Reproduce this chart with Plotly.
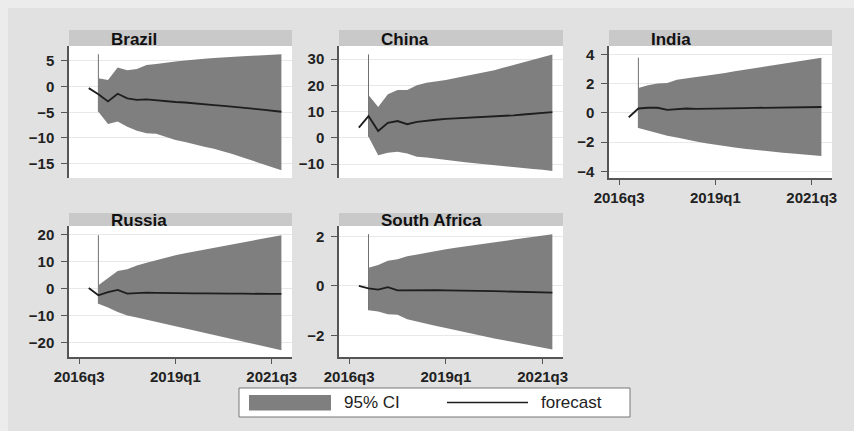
import plotly.graph_objects as go

# Quarter index: 0 = 2016q3, 10 = 2019q1, 20 = 2021q3
quarters_line = list(range(1, 22))   # 2016q4 .. 2021q4 (forecast path incl. last actual)
quarters_ci = list(range(2, 22))     # 2017q1 .. 2021q4 (forecast horizon)
forecast_start = 2
x_tickvals = [0, 10, 20]
x_ticktext = ["2016q3", "2019q1", "2021q3"]

countries = ["Brazil", "China", "India", "Russia", "South Africa"]

brazil_fc = [-0.3, -1.5, -2.9, -1.4, -2.3, -2.6, -2.5, -2.7, -2.9, -3.0, -3.1,
             -3.3, -3.4, -3.6, -3.75, -3.9, -4.1, -4.3, -4.5, -4.7, -4.9]
brazil_hi = [1.6, 1.3, 3.7, 3.2, 3.4, 4.2, 4.4, 4.7, 4.9, 5.1, 5.2, 5.4, 5.55,
             5.7, 5.8, 5.9, 6.0, 6.1, 6.2, 6.3]
brazil_lo = [-4.9, -7.3, -6.8, -7.8, -8.6, -9.1, -9.2, -9.8, -10.4, -10.8, -11.3,
             -11.7, -12.1, -12.6, -13.2, -13.8, -14.4, -15.0, -15.6, -16.3]

china_fc = [3.9, 8.3, 2.6, 5.7, 6.4, 5.2, 6.1, 6.6, 6.9, 7.2, 7.4, 7.5, 7.7,
            7.8, 8.0, 8.3, 8.6, 8.9, 9.2, 9.5, 9.8]
china_hi = [16.3, 11.8, 16.6, 18.2, 18.2, 20.0, 21.0, 21.5, 22.0, 22.8, 23.5,
            24.3, 25.0, 25.8, 26.8, 27.8, 28.8, 29.8, 30.8, 31.8]
china_lo = [0.4, -6.6, -5.7, -5.3, -6.0, -7.2, -7.5, -8.0, -8.5, -8.9, -9.3,
            -9.7, -10.1, -10.4, -10.8, -11.2, -11.5, -11.9, -12.2, -12.6]

india_fc = [-0.3, 0.3, 0.35, 0.35, 0.2, 0.25, 0.3, 0.28, 0.3, 0.3, 0.31, 0.32,
            0.33, 0.34, 0.35, 0.36, 0.37, 0.38, 0.39, 0.4, 0.4]
india_hi = [1.7, 1.88, 2.0, 2.05, 2.27, 2.38, 2.46, 2.54, 2.62, 2.73, 2.84,
            2.94, 3.05, 3.15, 3.27, 3.38, 3.48, 3.58, 3.68, 3.77]
india_lo = [-1.03, -1.22, -1.4, -1.57, -1.68, -1.84, -1.96, -2.08, -2.19, -2.28,
            -2.37, -2.45, -2.53, -2.6, -2.66, -2.72, -2.78, -2.84, -2.89, -2.94]

russia_fc = [0.2, -2.5, -1.3, -0.5, -1.9, -1.6, -1.5, -1.6, -1.7, -1.7, -1.8,
             -1.8, -1.8, -1.9, -1.9, -1.9, -1.9, -2.0, -2.0, -2.0, -2.0]
russia_hi = [1.2, 3.9, 6.5, 7.1, 8.5, 9.5, 10.5, 11.4, 12.3, 13.0, 13.7, 14.4,
             15.1, 15.8, 16.4, 17.0, 17.7, 18.4, 19.0, 19.7]
russia_lo = [-5.6, -7.0, -8.7, -10.0, -10.7, -11.5, -12.3, -13.1, -13.8, -14.6,
             -15.4, -16.2, -17.0, -17.9, -18.7, -19.5, -20.3, -21.1, -21.9, -22.8]

safrica_fc = [0.0, -0.1, -0.15, -0.05, -0.18, -0.17, -0.16, -0.16, -0.17, -0.18,
              -0.18, -0.19, -0.2, -0.2, -0.21, -0.22, -0.23, -0.24, -0.25, -0.26, -0.27]
safrica_hi = [0.74, 0.85, 1.02, 1.08, 1.2, 1.28, 1.35, 1.42, 1.49, 1.55, 1.6,
              1.66, 1.71, 1.76, 1.82, 1.88, 1.94, 1.99, 2.04, 2.1]
safrica_lo = [-0.98, -1.04, -1.15, -1.17, -1.35, -1.45, -1.53, -1.62, -1.7, -1.79,
              -1.88, -1.96, -2.05, -2.13, -2.2, -2.28, -2.36, -2.43, -2.5, -2.58]

forecasts = [brazil_fc, china_fc, india_fc, russia_fc, safrica_fc]
upper_ci = [brazil_hi, china_hi, india_hi, russia_hi, safrica_hi]
lower_ci = [brazil_lo, china_lo, india_lo, russia_lo, safrica_lo]

y_ticks = [[-15, -10, -5, 0, 5], [-10, 0, 10, 20, 30], [-4, -2, 0, 2, 4],
           [-20, -10, 0, 10, 20], [-2, 0, 2]]
y_ranges = [[-17.8, 7.9], [-15.3, 35], [-4.45, 4.57], [-25.3, 23.1], [-2.88, 2.43]]

W, H = 854, 431
BG = "#e1e1e1"
EDGE = "#ececec"
CI_COLOR = "#7f7f7f"
STRIP = "#c9c9c9"
AXIS = "#555555"
FONT = "Liberation Sans"


def px(x):
    return x / W


def py(y):
    return 1 - y / H


# panel placement (pixel boxes): columns and rows of the grid
cols = [(69, 292), (339, 563), (609, 832)]
rows = [(46, 178), (226, 357)]
strips = [(30, 46), (213, 226)]
cells = [(0, 0), (0, 1), (0, 2), (1, 0), (1, 1)]
show_x = [False, False, True, True, True]

fig = go.Figure()
layout = {}
shapes = []
annotations = []

for i, name in enumerate(countries):
    r, c = cells[i]
    xa = "x" if i == 0 else f"x{i + 1}"
    ya = "y" if i == 0 else f"y{i + 1}"
    top = max(upper_ci[i])

    # forecast-start marker, partly hidden by the CI band
    fig.add_trace(go.Scatter(x=[forecast_start, forecast_start], y=[lower_ci[i][0], top],
                             mode="lines", line=dict(color="#707070", width=1),
                             xaxis=xa, yaxis=ya, showlegend=False, hoverinfo="skip"))
    fig.add_trace(go.Scatter(x=quarters_ci, y=upper_ci[i], mode="lines",
                             line=dict(width=0, color=CI_COLOR),
                             xaxis=xa, yaxis=ya, showlegend=False))
    fig.add_trace(go.Scatter(x=quarters_ci, y=lower_ci[i], mode="lines",
                             line=dict(width=0, color=CI_COLOR), fill="tonexty",
                             fillcolor=CI_COLOR, name="95% CI",
                             xaxis=xa, yaxis=ya, showlegend=False))
    fig.add_trace(go.Scatter(x=quarters_line, y=forecasts[i], mode="lines",
                             line=dict(color="#1e1e1e", width=1.8), name="forecast",
                             xaxis=xa, yaxis=ya, showlegend=False))

    x0, x1 = cols[c]
    y0, y1 = rows[r]
    xkey = "xaxis" if i == 0 else f"xaxis{i + 1}"
    ykey = "yaxis" if i == 0 else f"yaxis{i + 1}"
    layout[xkey] = dict(
        domain=[px(x0), px(x1)], anchor=ya, range=[-1.05, 22.1],
        automargin=False, showgrid=False, zeroline=False,
        visible=show_x[i], showline=True, linecolor=AXIS, linewidth=1.5,
        ticks="outside", ticklen=5, tickcolor=AXIS,
        tickvals=x_tickvals, ticktext=x_ticktext,
        tickfont=dict(family=FONT, size=15, color="#222", weight="bold"),
    )
    layout[ykey] = dict(
        domain=[py(y1), py(y0)], anchor=xa, range=y_ranges[i],
        automargin=False, showgrid=True, gridcolor="#e8e8e8", gridwidth=1,
        zeroline=False, showline=True, linecolor=AXIS, linewidth=1.5,
        ticks="outside", ticklen=6, tickcolor=AXIS, tickvals=y_ticks[i],
        tickfont=dict(family=FONT, size=15, color="#222", weight="bold"),
        ticklabelstandoff=4,
    )

    # title strip above each panel
    s0, s1 = strips[r]
    shapes.append(dict(type="rect", xref="paper", yref="paper",
                       x0=px(x0), x1=px(x1), y0=py(s1), y1=py(s0),
                       fillcolor=STRIP, line=dict(width=0), layer="below"))
    annotations.append(dict(text=f"<b>{name}</b>", xref="paper", yref="paper",
                            x=px(x0 + 40), y=py((s0 + s1) / 2 + 1),
                            xanchor="left", yanchor="middle", showarrow=False,
                            font=dict(family=FONT, size=17, color="#111")))

# thin lighter border along the top and left edges
shapes += [
    dict(type="rect", xref="paper", yref="paper", x0=0, x1=1, y0=py(8), y1=1,
         fillcolor=EDGE, line=dict(width=0), layer="below"),
    dict(type="rect", xref="paper", yref="paper", x0=0, x1=px(8), y0=0, y1=1,
         fillcolor=EDGE, line=dict(width=0), layer="below"),
]

# legend box
lg_y = 402.5
shapes += [
    dict(type="rect", xref="paper", yref="paper", x0=px(239), x1=px(630),
         y0=py(417), y1=py(388), fillcolor="white", line=dict(color="#777", width=1)),
    dict(type="rect", xref="paper", yref="paper", x0=px(249), x1=px(331),
         y0=py(410.5), y1=py(395), fillcolor=CI_COLOR, line=dict(width=0)),
    dict(type="line", xref="paper", yref="paper", x0=px(447), x1=px(528),
         y0=py(lg_y), y1=py(lg_y), line=dict(color="#1e1e1e", width=1.5)),
]
annotations += [
    dict(text="95% CI", xref="paper", yref="paper", x=px(342), y=py(lg_y),
         xanchor="left", yanchor="middle", showarrow=False,
         font=dict(family=FONT, size=17, color="#222")),
    dict(text="forecast", xref="paper", yref="paper", x=px(539), y=py(lg_y),
         xanchor="left", yanchor="middle", showarrow=False,
         font=dict(family=FONT, size=17, color="#222")),
]

fig.update_layout(
    template="none",
    width=W, height=H, margin=dict(l=0, r=0, t=0, b=0, pad=0),
    paper_bgcolor=BG, plot_bgcolor="white",
    shapes=shapes, annotations=annotations, showlegend=False,
    **layout,
)

fig.write_html("out.html")
